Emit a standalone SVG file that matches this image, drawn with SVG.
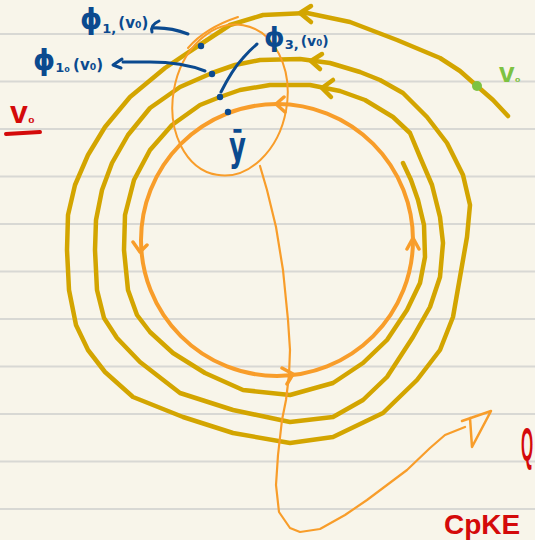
<svg xmlns="http://www.w3.org/2000/svg" width="535" height="540" viewBox="0 0 535 540">
<style>
.rule{stroke:#d8d8d4;stroke-width:2}
.gold{fill:none;stroke:#d3a500;stroke-width:4.5;stroke-linecap:round;stroke-linejoin:round}
.or{fill:none;stroke:#f89d2a;stroke-linecap:round;stroke-linejoin:round}
.blue{fill:none;stroke:#0b4a8f;stroke-width:3;stroke-linecap:round;stroke-linejoin:round}
.bt{fill:#0b4a8f;font-family:"DejaVu Sans","Liberation Sans",sans-serif;font-weight:bold}
.red{fill:#d40a0a;font-family:"Liberation Sans",sans-serif;font-weight:bold}
</style>
<rect width="535" height="540" fill="#f8f5ea"/>
<g id="ruling">
<line class="rule" x1="0" y1="34" x2="535" y2="34"/>
<line class="rule" x1="0" y1="81.5" x2="535" y2="81.5"/>
<line class="rule" x1="0" y1="129" x2="535" y2="129"/>
<line class="rule" x1="0" y1="176.5" x2="535" y2="176.5"/>
<line class="rule" x1="0" y1="224" x2="535" y2="224"/>
<line class="rule" x1="0" y1="271.5" x2="535" y2="271.5"/>
<line class="rule" x1="0" y1="319" x2="535" y2="319"/>
<line class="rule" x1="0" y1="366.5" x2="535" y2="366.5"/>
<line class="rule" x1="0" y1="414" x2="535" y2="414"/>
<line class="rule" x1="0" y1="461.5" x2="535" y2="461.5"/>
<line class="rule" x1="0" y1="509" x2="535" y2="509"/>
</g>
<g id="limit-cycle">
<circle class="or" cx="277" cy="240" r="136" stroke-width="4"/>
<path class="or" stroke-width="3.5" d="M133,242 L140,252 L147,245 M407,249 L413,238 L419,249 M282,368 L293,374 L287,384 M284,97 L276,104 L285,112"/>
</g>
<g id="trajectory">
<path class="gold" d="M508,116 L493,100 L477,86 L460,71 L440,58 L397,40 L350,22 L307,13 L263,15 L230,25 L201,44 L165,68 L130,97 L105,127 L88,155 L75,185 L68,215 L67,250 L69,290 L76,325 L88,350 L105,372 L133,397 L183,417 L233,433 L290,443 L333,437 L383,413 L417,380 L440,350 L453,317 L460,277 L467,237 L470,205 L463,175 L447,143 L427,117 L403,93 L380,80 L360,72 L330,63 L300,59 L260,60 L235,65 L212,73 L180,87 L150,108 L128,135 L112,163 L102,190 L96,220 L95,250 L97,290 L104,318 L117,338 L140,362 L180,393 L233,410 L290,422 L333,417 L363,400 L387,377 L413,337 L430,307 L440,277 L443,243 L440,217 L432,185 L420,157 L410,133 L393,117 L365,100 L340,91 L310,85 L270,85 L240,90 L220,97 L200,105 L172,125 L150,150 L134,180 L125,215 L124,250 L128,290 L137,315 L150,332 L173,353 L205,373 L243,390 L290,395 L333,383 L363,363 L387,340 L407,310 L420,283 L425,257 L424,225 L418,200 L411,180 L403,163"/>
<path class="gold" d="M311,6 L300,13 L311,22 M322,54 L311,61 L320,69 M333,80 L322,88 L331,97"/>
</g>
<g id="neighbourhood">
<ellipse class="or" cx="230" cy="100" rx="57" ry="76" transform="rotate(10 230 100)" stroke-width="2"/>
<path class="or" stroke-width="2" d="M188,48 Q205,28 238,17"/>
<path class="or" stroke-width="2.2" d="M260,166 L267,190 L276,227 L283,270 L288,320 L290,350 L289,375 L286,400 L282,420 L278,455 L276,485 L279,512 L290,528 L300,532 L320,529 L345,515 L367,500 L407,470 L430,448 L445,435 L465,427"/>
<path class="or" stroke-width="2.5" d="M462,421 L491,411 L472,447 L470,418"/>
</g>
<g id="points">
<circle cx="201" cy="46" r="3.2" fill="#0b4a8f"/>
<circle cx="212" cy="74" r="3.2" fill="#0b4a8f"/>
<circle cx="220" cy="97" r="3.2" fill="#0b4a8f"/>
<circle cx="228" cy="112" r="3.2" fill="#0b4a8f"/>
<circle cx="477" cy="86" r="5" fill="#7dc242"/>
</g>
<g id="label-arrows">
<path class="blue" d="M188,34 Q170,27 152,28 M159,21 Q150,25 152,32"/>
<path class="blue" d="M205,71 Q182,62 150,62 L123,62 M122,59 L113,65 L121,68"/>
<path class="blue" d="M221,92 Q232,70 243,58 Q250,50 257,44"/>
</g>
<g id="labels">
<text class="bt" x="80" y="29"><tspan font-size="28">ϕ</tspan><tspan font-size="13" dy="4">1,</tspan><tspan font-size="15" dy="-5" dx="2">(v₀)</tspan></text>
<text class="bt" x="33" y="70"><tspan font-size="28">ϕ</tspan><tspan font-size="13" dy="2">1₀</tspan><tspan font-size="15" dy="-2" dx="3">(v₀)</tspan></text>
<text class="bt" x="264" y="46"><tspan font-size="26">ϕ</tspan><tspan font-size="13" dy="3">3,</tspan><tspan font-size="14" dy="-3" dx="2">(v₀)</tspan></text>
<text class="bt" font-size="40" transform="translate(229,160) scale(0.65,1)">ȳ</text>
<text class="red" x="10" y="123" font-size="32">v<tspan font-size="16">₀</tspan></text>
<line x1="6" y1="134" x2="40" y2="132" stroke="#d40a0a" stroke-width="4" stroke-linecap="round"/>
<text x="499" y="82" font-size="28" font-weight="bold" font-family="Liberation Sans,sans-serif" fill="#7dc242">v<tspan font-size="14">₀</tspan></text>
<text class="red" font-size="46" font-weight="normal" transform="translate(521,460) scale(0.34,1)">Q</text>
<text class="red" x="444" y="534" font-size="28" font-weight="normal">CpKE</text>
</g>
</svg>
